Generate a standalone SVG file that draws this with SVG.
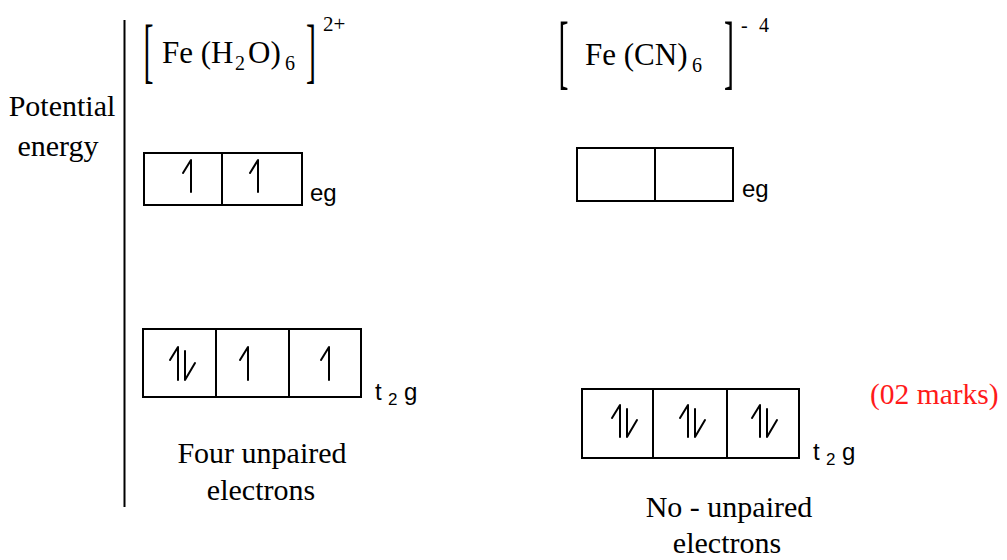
<svg xmlns="http://www.w3.org/2000/svg" width="1007" height="560" viewBox="0 0 1007 560">
<style>
.serif{font-family:"Liberation Serif","Times New Roman",serif;fill:#000}
.lbl{font-family:"Liberation Sans",Arial,sans-serif;fill:#000}
.box{fill:#fff;stroke:#000;stroke-width:2}
.arr{fill:none;stroke:#000;stroke-width:2;stroke-linecap:round;stroke-linejoin:round}
</style>
<rect width="1007" height="560" fill="#fff"/>
<g id="axis">
<line x1="124.5" y1="20" x2="124.5" y2="507" stroke="#000" stroke-width="2"/>
<text class="serif" font-size="30" x="62" y="116" text-anchor="middle">Potential</text>
<text class="serif" font-size="30" x="58" y="156" text-anchor="middle">energy</text>
</g>
<g id="formula-left">
<text class="serif" font-size="30" transform="translate(143.4,73.6) scale(1,2.43)">[</text>
<text class="serif" font-size="31" x="162" y="63">Fe (H</text>
<text class="serif" font-size="20" x="235" y="70">2</text>
<text class="serif" font-size="31" x="248" y="63">O)</text>
<text class="serif" font-size="20" x="285" y="70">6</text>
<text class="serif" font-size="30" transform="translate(306,73.6) scale(1,2.43)">]</text>
<text class="serif" font-size="21" x="323" y="31">2+</text>
</g>
<g id="formula-right">
<text class="serif" font-size="30" transform="translate(558.4,79) scale(1,2.75)">[</text>
<text class="serif" font-size="31" x="585" y="65">Fe (CN)</text>
<text class="serif" font-size="20" x="692" y="72">6</text>
<text class="serif" font-size="30" transform="translate(724,79) scale(1,2.75)">]</text>
<text class="serif" font-size="20" x="741" y="32">-</text>
<text class="serif" font-size="20" x="759" y="32">4</text>
</g>
<g id="eg-left">
<rect class="box" x="144" y="153" width="78" height="52"/>
<rect class="box" x="222" y="153" width="80" height="52"/>
<path class="arr" d="M191,192 V160 L183,173"/>
<path class="arr" d="M258,192 V160 L250,173"/>
<text class="lbl" font-size="24" x="310" y="201">eg</text>
</g>
<g id="t2g-left">
<rect class="box" x="143" y="329" width="73" height="68"/>
<rect class="box" x="216" y="329" width="73" height="68"/>
<rect class="box" x="289" y="329" width="72" height="68"/>
<path class="arr" d="M178,380 V347 L170,360"/>
<path class="arr" d="M185,351 V380 L195,363"/>
<path class="arr" d="M248,380 V347 L240,360"/>
<path class="arr" d="M329,380 V347 L321,360"/>
<text class="lbl" font-size="24" x="375" y="400">t</text>
<text class="lbl" font-size="17" x="388" y="405">2</text>
<text class="lbl" font-size="24" x="404" y="400">g</text>
</g>
<g id="eg-right">
<rect class="box" x="577" y="148" width="78" height="53"/>
<rect class="box" x="655" y="148" width="78" height="53"/>
<text class="lbl" font-size="24" x="742" y="197">eg</text>
</g>
<g id="t2g-right">
<rect class="box" x="582" y="389" width="71" height="69"/>
<rect class="box" x="653" y="389" width="74" height="69"/>
<rect class="box" x="727" y="389" width="72" height="69"/>
<path class="arr" d="M620,437 V405 L612,418"/>
<path class="arr" d="M627,409 V437 L637,420"/>
<path class="arr" d="M688,437 V405 L680,418"/>
<path class="arr" d="M695,409 V437 L705,420"/>
<path class="arr" d="M760,437 V405 L752,418"/>
<path class="arr" d="M767,409 V437 L777,420"/>
<text class="lbl" font-size="24" x="813" y="460">t</text>
<text class="lbl" font-size="17" x="826" y="465">2</text>
<text class="lbl" font-size="24" x="842" y="460">g</text>
</g>
<g id="notes">
<text class="serif" font-size="30" x="262" y="463" text-anchor="middle">Four unpaired</text>
<text class="serif" font-size="30" x="261" y="500" text-anchor="middle">electrons</text>
<text class="serif" font-size="30" x="729" y="517" text-anchor="middle">No - unpaired</text>
<text class="serif" font-size="30" x="727" y="553" text-anchor="middle">electrons</text>
<text class="serif" font-size="29.5" x="870" y="404" style="fill:#ff1a1a">(02 marks)</text>
</g>
</svg>
